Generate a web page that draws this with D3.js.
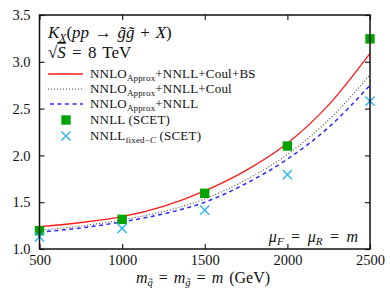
<!DOCTYPE html>
<html><head><meta charset="utf-8">
<script src="https://cdn.jsdelivr.net/npm/d3@7"></script>
<style>
html,body{margin:0;padding:0;background:#fff;}
svg text{font-family:"Liberation Serif","Times New Roman",serif;fill:#111;}
</style></head>
<body><svg id="c" width="390" height="293" font-family="Liberation Serif"></svg>
<script>
// ---- data ----
const massGrid = [500, 750, 1000, 1250, 1500, 1750, 2000, 2250, 2500];
const kCoulBS  = [1.238, 1.283, 1.345, 1.455, 1.62, 1.84, 2.13, 2.54, 3.09];
const kCoul    = [1.200, 1.245, 1.312, 1.40, 1.535, 1.74, 2.01, 2.38, 2.86];
const kNNLL    = [1.180, 1.225, 1.290, 1.375, 1.50, 1.70, 1.96, 2.30, 2.75];
const scetMass = [500, 1000, 1500, 2000, 2500];
const kSCET    = [1.196, 1.317, 1.595, 2.10, 3.245];
const kFixedC  = [1.13, 1.22, 1.415, 1.795, 2.58];
const xTicks = [500, 1000, 1500, 2000, 2500];
const yTicks = [1.0, 1.5, 2.0, 2.5, 3.0, 3.5];

const svg = d3.select("#c");
const L = 39.5, R = 370, T = 15, B = 249;
const x = d3.scaleLinear().domain([500, 2500]).range([L, R]);
const y = d3.scaleLinear().domain([1, 3.5]).range([B, T]);

// curves
const line = d3.line().x(d => x(d[0])).y(d => y(d[1])).curve(d3.curveMonotoneX);
const g = svg.append("g");
g.append("path").datum(d3.zip(massGrid, kNNLL)).attr("d", line)
  .attr("fill", "none").attr("stroke", "#2b2bff").attr("stroke-width", 1.5).attr("stroke-dasharray", "4,3.5");
g.append("path").datum(d3.zip(massGrid, kCoul)).attr("d", line)
  .attr("fill", "none").attr("stroke", "#444").attr("stroke-width", 1.1).attr("stroke-dasharray", "1,2");
g.append("path").datum(d3.zip(massGrid, kCoulBS)).attr("d", line)
  .attr("fill", "none").attr("stroke", "#ff1a1a").attr("stroke-width", 1.3);

// markers
const crossPath = s => `M${-s},${-s}L${s},${s}M${-s},${s}L${s},${-s}`;
g.selectAll(".sq").data(d3.zip(scetMass, kSCET)).join("rect")
  .attr("x", d => x(d[0]) - 4.7).attr("y", d => y(d[1]) - 4.7)
  .attr("width", 9.4).attr("height", 9.4).attr("fill", "#00a400");
g.selectAll(".cx").data(d3.zip(scetMass, kFixedC)).join("path")
  .attr("transform", d => `translate(${x(d[0])},${y(d[1])})`)
  .attr("d", crossPath(4.6)).attr("stroke", "#2ab4f0").attr("stroke-width", 1.4).attr("fill", "none");

// axes (ticks inward on all sides)
const tl = 5;
const ax = svg.append("g");
ax.append("g").attr("transform", `translate(0,${B})`)
  .call(d3.axisBottom(x).tickValues(xTicks).tickSize(-tl).tickPadding(6).tickFormat(d3.format("d")));
ax.append("g").attr("transform", `translate(0,${T})`)
  .call(d3.axisTop(x).tickValues(xTicks).tickSize(-tl).tickFormat(""));
ax.append("g").attr("transform", `translate(${L},0)`)
  .call(d3.axisLeft(y).tickValues(yTicks).tickSize(-tl).tickPadding(9).tickFormat(d3.format(".1f")));
ax.append("g").attr("transform", `translate(${R},0)`)
  .call(d3.axisRight(y).tickValues(yTicks).tickSize(-tl).tickFormat(""));
ax.selectAll(".domain").remove();
ax.selectAll(".tick line").attr("stroke", "#222").attr("stroke-width", 1.2);
ax.selectAll(".tick text").attr("font-family", "Liberation Serif").attr("font-size", 14.5).attr("fill", "#111");
svg.append("rect").attr("x", L).attr("y", T).attr("width", R - L).attr("height", B - T)
  .attr("fill", "none").attr("stroke", "#111").attr("stroke-width", 1.5);

// title
const t1 = svg.append("text").attr("x", 48).attr("y", 38).attr("font-size", 17).attr("word-spacing", 1.5);
t1.append("tspan").attr("font-style", "italic").text("K");
t1.append("tspan").attr("font-style", "italic").attr("font-size", 11.5).attr("dy", 3.5).text("X");
t1.append("tspan").attr("dy", -3.5).text("(");
t1.append("tspan").attr("font-style", "italic").text("pp");
t1.append("tspan").text(" → ");
t1.append("tspan").attr("font-style", "italic").text("g\u0303g\u0303");
t1.append("tspan").text(" + ");
t1.append("tspan").attr("font-style", "italic").text("X");
t1.append("tspan").text(")");

const t2 = svg.append("text").attr("x", 48).attr("y", 58).attr("font-size", 17).attr("word-spacing", 2);
t2.append("tspan").text("√");
t2.append("tspan").attr("font-style", "italic").style("text-decoration", "overline").text("S");
t2.append("tspan").text(" = 8 TeV");

// legend
const legendLabels = [
  ["NNLO", "Approx", "+NNLL+Coul+BS"],
  ["NNLO", "Approx", "+NNLL+Coul"],
  ["NNLO", "Approx", "+NNLL"],
  ["NNLL (SCET)", "", ""],
  ["NNLL", "fixed−C", " (SCET)"]
];
const legY = [74, 89, 104, 120, 136];
const lg = svg.append("g");
const lx0 = 48, lx1 = 83;
lg.append("line").attr("x1", lx0).attr("x2", lx1).attr("y1", legY[0]).attr("y2", legY[0]).attr("stroke", "#ff1a1a").attr("stroke-width", 1.3);
lg.append("line").attr("x1", lx0).attr("x2", lx1).attr("y1", legY[1]).attr("y2", legY[1]).attr("stroke", "#444").attr("stroke-width", 1.1).attr("stroke-dasharray", "1,2");
lg.append("line").attr("x1", lx0 + 2).attr("x2", lx1).attr("y1", legY[2]).attr("y2", legY[2]).attr("stroke", "#2b2bff").attr("stroke-width", 1.5).attr("stroke-dasharray", "4,3.5");
lg.append("rect").attr("x", 66 - 4.7).attr("y", legY[3] - 4.7).attr("width", 9.4).attr("height", 9.4).attr("fill", "#00a400");
lg.append("path").attr("transform", `translate(66,${legY[4]})`).attr("d", crossPath(4.6)).attr("stroke", "#2ab4f0").attr("stroke-width", 1.4);
legendLabels.forEach((lab, i) => {
  const t = lg.append("text").attr("x", 90).attr("y", legY[i] + 4).attr("font-size", 13).attr("letter-spacing", 0.2);
  t.append("tspan").text(lab[0]);
  if (lab[1]) {
    const sub = t.append("tspan").attr("font-size", 9).attr("dy", 3).attr("letter-spacing", 0.15);
    if (lab[1] === "fixed−C") { sub.append("tspan").text("fixed−"); sub.append("tspan").attr("font-style","italic").text("C"); }
    else sub.text(lab[1]);
    t.append("tspan").attr("dy", -3).text(lab[2]);
  }
});

// scale label
const t3 = svg.append("text").attr("x", 358).attr("y", 242).attr("text-anchor", "end").attr("font-size", 16).attr("word-spacing", 3.5);
t3.append("tspan").attr("font-style", "italic").text("μ");
t3.append("tspan").attr("font-style", "italic").attr("font-size", 11).attr("dy", 3).text("F");
t3.append("tspan").attr("dy", -3).text(" = ");
t3.append("tspan").attr("font-style", "italic").text("μ");
t3.append("tspan").attr("font-style", "italic").attr("font-size", 11).attr("dy", 3).text("R");
t3.append("tspan").attr("dy", -3).text(" = ");
t3.append("tspan").attr("font-style", "italic").text("m");

// x label
const t4 = svg.append("text").attr("x", 203).attr("y", 283).attr("text-anchor", "middle").attr("font-size", 16).attr("word-spacing", 2);
t4.append("tspan").attr("font-style", "italic").text("m");
t4.append("tspan").attr("font-style", "italic").attr("font-size", 10.5).attr("dy", 3).text("q\u0303");
t4.append("tspan").attr("dy", -3).text(" = ");
t4.append("tspan").attr("font-style", "italic").text("m");
t4.append("tspan").attr("font-style", "italic").attr("font-size", 10.5).attr("dy", 3).text("g\u0303");
t4.append("tspan").attr("dy", -3).text(" = ");
t4.append("tspan").attr("font-style", "italic").text("m");
t4.append("tspan").text(" (GeV)");
</script></body></html>
